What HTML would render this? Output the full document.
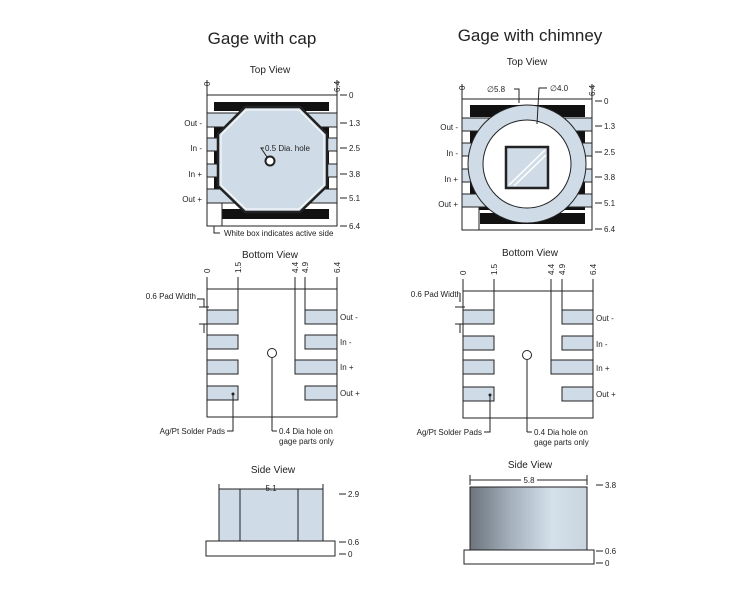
<!DOCTYPE html>
<html><head><meta charset="utf-8"><style>
html,body{margin:0;padding:0;background:#fff;}
svg{display:block;font-family:"Liberation Sans",Arial,sans-serif;}
.t{font-size:8px;fill:#222}
.h{font-size:10px;fill:#222}
.T{font-size:17px;fill:#222}
.pad{fill:#cfdbe6;stroke:#222;stroke-width:1}
.ln{stroke:#222;stroke-width:1;fill:none}
</style></head><body>
<svg width="750" height="600" viewBox="0 0 750 600">
<defs>
<linearGradient id="g" x1="0" x2="1" y1="0" y2="0">
<stop offset="0" stop-color="#6c747c"/><stop offset="0.35" stop-color="#a4b0bc"/><stop offset="0.7" stop-color="#d4e0ea"/><stop offset="1" stop-color="#c8d4de"/>
</linearGradient>
</defs>
<text class="T" x="262" y="44" text-anchor="middle">Gage with cap</text>
<text class="T" x="530" y="41" text-anchor="middle">Gage with chimney</text>

<!-- LEFT TOP VIEW -->
<text class="h" x="270" y="73" text-anchor="middle">Top View</text>
<g>
<rect x="207" y="95" width="130" height="131" fill="#fff" stroke="#222"/>
<rect x="214" y="102" width="115" height="9" fill="#111"/>
<rect x="222" y="209" width="107" height="10" fill="#111"/>
<rect x="214" y="127" width="115" height="62" fill="#111"/>
<rect x="207" y="113" width="130" height="14" class="pad"/>
<rect x="207" y="138" width="130" height="13" class="pad"/>
<rect x="207" y="164" width="130" height="13" class="pad"/>
<rect x="207" y="189" width="130" height="14" class="pad"/>
<rect x="207" y="203" width="15" height="23" fill="#fff" stroke="#222"/>
<polygon points="245,107 300,107 327,134 327,186 300,212 245,212 218,186 218,134" fill="#cfdbe6" stroke="#222" stroke-width="2.5"/>
<polygon points="246,110 299,110 324,135 324,185 299,209 246,209 221,185 221,135" fill="none" stroke="#fff" stroke-width="1"/>
<circle cx="270" cy="161" r="4.5" fill="#fff" stroke="#222" stroke-width="2"/>
<polyline class="ln" points="267,157 261,148 264,148"/>
<text class="t" x="265" y="151">0.5 Dia. hole</text>
<line class="ln" x1="207" y1="80" x2="207" y2="95"/><text class="t" transform="translate(210,86) rotate(-90)">0</text>
<line class="ln" x1="337" y1="80" x2="337" y2="95"/><text class="t" transform="translate(340,92) rotate(-90)">6.4</text>
<text class="t" x="202" y="126" text-anchor="end">Out -</text>
<text class="t" x="202" y="151" text-anchor="end">In -</text>
<text class="t" x="202" y="177" text-anchor="end">In +</text>
<text class="t" x="202" y="202" text-anchor="end">Out +</text>
<g class="ln"><line x1="340" y1="95" x2="347" y2="95"/><line x1="340" y1="123" x2="347" y2="123"/><line x1="340" y1="148" x2="347" y2="148"/><line x1="340" y1="174" x2="347" y2="174"/><line x1="340" y1="198" x2="347" y2="198"/><line x1="340" y1="226" x2="347" y2="226"/></g>
<text class="t" x="349" y="98">0</text><text class="t" x="349" y="126">1.3</text><text class="t" x="349" y="151">2.5</text><text class="t" x="349" y="177">3.8</text><text class="t" x="349" y="201">5.1</text><text class="t" x="349" y="229">6.4</text>
<polyline class="ln" points="214,226 214,233 220,233"/>
<text class="t" x="224" y="236">White box indicates active side</text>
</g>

<!-- RIGHT TOP VIEW -->
<text class="h" x="527" y="65" text-anchor="middle">Top View</text>
<g>
<rect x="462" y="99" width="130" height="131" fill="#fff" stroke="#222"/>
<rect x="470" y="105" width="115" height="12" fill="#111"/>
<rect x="480" y="213" width="105" height="11" fill="#111"/>
<rect x="470" y="130" width="115" height="80" fill="#111"/>
<rect x="462" y="118" width="130" height="13" class="pad"/>
<rect x="462" y="143" width="130" height="13" class="pad"/>
<rect x="462" y="169" width="130" height="13" class="pad"/>
<rect x="462" y="194" width="130" height="13" class="pad"/>
<rect x="462" y="207" width="17" height="23" fill="#fff" stroke="#222"/>
<circle cx="527" cy="164" r="59" fill="#cfdbe6" stroke="#222"/>
<circle cx="527" cy="164" r="44" fill="#fff" stroke="#222"/>
<rect x="506" y="147" width="42" height="41" fill="#cfdbe6" stroke="#222" stroke-width="2.5"/>
<g stroke="#fff" stroke-width="1.5"><line x1="509" y1="185" x2="545" y2="150"/><line x1="514" y1="186" x2="546" y2="155"/></g>
<polyline class="ln" points="514,89 519,89 519,103"/>
<text class="t" x="487" y="92">∅5.8</text>
<polyline class="ln" points="547,88 539,88 537,124"/>
<text class="t" x="550" y="91">∅4.0</text>
<line class="ln" x1="462" y1="84" x2="462" y2="99"/><text class="t" transform="translate(465,90) rotate(-90)">0</text>
<line class="ln" x1="592" y1="84" x2="592" y2="99"/><text class="t" transform="translate(595,96) rotate(-90)">6.4</text>
<text class="t" x="458" y="130" text-anchor="end">Out -</text>
<text class="t" x="458" y="156" text-anchor="end">In -</text>
<text class="t" x="458" y="182" text-anchor="end">In +</text>
<text class="t" x="458" y="207" text-anchor="end">Out +</text>
<g class="ln"><line x1="595" y1="101" x2="602" y2="101"/><line x1="595" y1="126" x2="602" y2="126"/><line x1="595" y1="152" x2="602" y2="152"/><line x1="595" y1="177" x2="602" y2="177"/><line x1="595" y1="203" x2="602" y2="203"/><line x1="595" y1="229" x2="602" y2="229"/></g>
<text class="t" x="604" y="104">0</text><text class="t" x="604" y="129">1.3</text><text class="t" x="604" y="155">2.5</text><text class="t" x="604" y="180">3.8</text><text class="t" x="604" y="206">5.1</text><text class="t" x="604" y="232">6.4</text>
</g>

<!-- BOTTOM VIEWS -->
<text class="h" x="270" y="258" text-anchor="middle">Bottom View</text>
<text class="h" x="530" y="256" text-anchor="middle">Bottom View</text>
<g transform="translate(207,289)">
<rect x="0" y="0" width="130" height="128" fill="#fff" stroke="#222"/>
<rect class="pad" x="0" y="21" width="31" height="14"/><rect class="pad" x="0" y="46" width="31" height="14"/><rect class="pad" x="0" y="71" width="31" height="14"/><rect class="pad" x="0" y="97" width="31" height="14"/>
<rect class="pad" x="98" y="21" width="32" height="14"/><rect class="pad" x="98" y="46" width="32" height="14"/><rect class="pad" x="88" y="71" width="42" height="14"/><rect class="pad" x="98" y="97" width="32" height="14"/>
<circle cx="65" cy="64" r="4.5" fill="#fff" stroke="#222"/>
<line class="ln" x1="65" y1="69" x2="65" y2="142"/><line class="ln" x1="65" y1="142" x2="70" y2="142"/>
<text class="t" x="72" y="145">0.4 Dia hole on</text><text class="t" x="72" y="155">gage parts only</text>
<circle cx="26" cy="105" r="1.5" fill="#222"/>
<polyline class="ln" points="26,105 26,142 20,142"/>
<text class="t" x="18" y="145" text-anchor="end">Ag/Pt Solder Pads</text>
<line class="ln" x1="0" y1="-12" x2="0" y2="0"/><line class="ln" x1="31" y1="-12" x2="31" y2="21"/><line class="ln" x1="88" y1="-12" x2="88" y2="71"/><line class="ln" x1="98" y1="-12" x2="98" y2="21"/><line class="ln" x1="130" y1="-12" x2="130" y2="0"/>
<text class="t" transform="translate(3,-16) rotate(-90)">0</text><text class="t" transform="translate(34,-16) rotate(-90)">1.5</text><text class="t" transform="translate(91,-16) rotate(-90)">4.4</text><text class="t" transform="translate(101,-16) rotate(-90)">4.9</text><text class="t" transform="translate(133,-16) rotate(-90)">6.4</text>
<polyline class="ln" points="-10,10 -3,10 -3,18"/><line class="ln" x1="-8" y1="18" x2="2" y2="18"/><line class="ln" x1="-8" y1="35" x2="2" y2="35"/><line class="ln" x1="-3" y1="35" x2="-3" y2="44"/>
<text class="t" x="-11" y="10" text-anchor="end">0.6 Pad Width</text>
<text class="t" x="133" y="31">Out -</text><text class="t" x="133" y="56">In -</text><text class="t" x="133" y="81">In +</text><text class="t" x="133" y="107">Out +</text>
</g>
<g transform="translate(463,291)">
<rect x="0" y="0" width="130" height="127" fill="#fff" stroke="#222"/>
<rect class="pad" x="0" y="19" width="31" height="14"/><rect class="pad" x="0" y="45" width="31" height="14"/><rect class="pad" x="0" y="69" width="31" height="14"/><rect class="pad" x="0" y="96" width="31" height="14"/>
<rect class="pad" x="99" y="19" width="31" height="14"/><rect class="pad" x="99" y="45" width="31" height="14"/><rect class="pad" x="88" y="69" width="42" height="14"/><rect class="pad" x="99" y="96" width="31" height="14"/>
<circle cx="64" cy="64" r="4.5" fill="#fff" stroke="#222"/>
<line class="ln" x1="64" y1="69" x2="64" y2="141"/><line class="ln" x1="64" y1="141" x2="69" y2="141"/>
<text class="t" x="71" y="144">0.4 Dia hole on</text><text class="t" x="71" y="154">gage parts only</text>
<circle cx="27" cy="104" r="1.5" fill="#222"/>
<polyline class="ln" points="27,104 27,141 21,141"/>
<text class="t" x="19" y="144" text-anchor="end">Ag/Pt Solder Pads</text>
<line class="ln" x1="0" y1="-12" x2="0" y2="0"/><line class="ln" x1="31" y1="-12" x2="31" y2="19"/><line class="ln" x1="88" y1="-12" x2="88" y2="69"/><line class="ln" x1="99" y1="-12" x2="99" y2="19"/><line class="ln" x1="130" y1="-12" x2="130" y2="0"/>
<text class="t" transform="translate(3,-16) rotate(-90)">0</text><text class="t" transform="translate(34,-16) rotate(-90)">1.5</text><text class="t" transform="translate(91,-16) rotate(-90)">4.4</text><text class="t" transform="translate(102,-16) rotate(-90)">4.9</text><text class="t" transform="translate(133,-16) rotate(-90)">6.4</text>
<polyline class="ln" points="-3,2 -3,11"/><line class="ln" x1="-8" y1="16" x2="2" y2="16"/><line class="ln" x1="-8" y1="33" x2="2" y2="33"/><line class="ln" x1="-3" y1="33" x2="-3" y2="42"/>
<text class="t" x="-2" y="6" text-anchor="end">0.6 Pad Width</text>
<text class="t" x="133" y="30">Out -</text><text class="t" x="133" y="56">In -</text><text class="t" x="133" y="80">In +</text><text class="t" x="133" y="106">Out +</text>
</g>

<!-- SIDE VIEWS -->
<text class="h" x="273" y="473" text-anchor="middle">Side View</text>
<rect x="219" y="489" width="104" height="52" fill="#cfdbe6" stroke="#222"/>
<line class="ln" x1="240" y1="489" x2="240" y2="541"/><line class="ln" x1="298" y1="489" x2="298" y2="541"/>
<rect x="206" y="541" width="129" height="15" fill="#fff" stroke="#222"/>
<line class="ln" x1="219" y1="484" x2="219" y2="494"/><line class="ln" x1="323" y1="484" x2="323" y2="494"/>
<line class="ln" x1="219" y1="489" x2="264" y2="489"/><line class="ln" x1="278" y1="489" x2="323" y2="489"/>
<text class="t" x="271" y="491" text-anchor="middle">5.1</text>
<line class="ln" x1="339" y1="494" x2="346" y2="494"/><text class="t" x="348" y="497">2.9</text>
<line class="ln" x1="339" y1="542" x2="346" y2="542"/><text class="t" x="348" y="545">0.6</text>
<line class="ln" x1="339" y1="554" x2="346" y2="554"/><text class="t" x="348" y="557">0</text>

<text class="h" x="530" y="468" text-anchor="middle">Side View</text>
<rect x="470" y="487" width="117" height="63" fill="url(#g)" stroke="#222"/>
<rect x="464" y="550" width="130" height="14" fill="#fff" stroke="#222"/>
<line class="ln" x1="470" y1="475" x2="470" y2="485"/><line class="ln" x1="587" y1="475" x2="587" y2="485"/>
<line class="ln" x1="470" y1="480" x2="521" y2="480"/><line class="ln" x1="537" y1="480" x2="587" y2="480"/>
<text class="t" x="529" y="483" text-anchor="middle">5.8</text>
<line class="ln" x1="596" y1="485" x2="603" y2="485"/><text class="t" x="605" y="488">3.8</text>
<line class="ln" x1="596" y1="551" x2="603" y2="551"/><text class="t" x="605" y="554">0.6</text>
<line class="ln" x1="596" y1="563" x2="603" y2="563"/><text class="t" x="605" y="566">0</text>
</svg>
</body></html>
